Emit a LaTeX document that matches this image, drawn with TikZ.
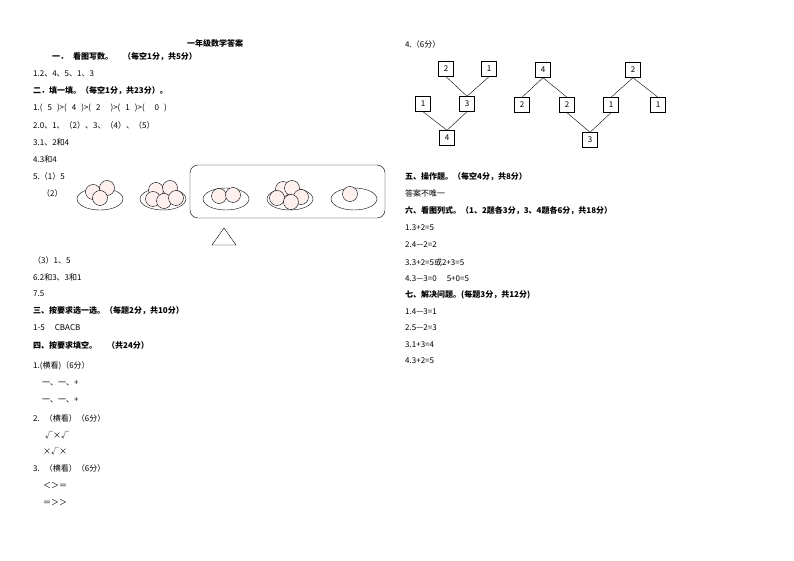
\documentclass[tikz,border=0pt]{standalone}
\usepackage{fontspec}
\setmainfont{Noto Sans CJK SC}
\tikzset{
  txt/.style={anchor=west,inner sep=0pt,font=\fontsize{8}{9}\selectfont},
  hd/.style={txt,font=\fontsize{8}{9}\selectfont\bfseries},
  numbox/.style={draw,minimum size=15pt,inner sep=0pt,font=\fontsize{8}{9}\selectfont},
  fruit/.style={draw,line width=0.4pt,fill=red!6},
  plate/.style={draw,line width=0.4pt,fill=white}
}
\newcommand{\gap}{\hspace{5pt}}
\begin{document}
\begin{tikzpicture}[x=1pt,y=-1pt]
	\useasboundingbox (0,0) rectangle (794,561);
	%left column
	\node[hd,anchor=center] (title) at (215,43) {一年级数学答案};
	\node[hd] (s1) at (52,57) {一．\gap 看图写数。\gap\gap（每空1分，共5分）};
	\node[txt] (l1) at (33,74) {1.2、4、5、1、3};
	\node[hd] (s2) at (33,91) {二．填一填。（每空1分，共23分）。};
	\node[txt] (l2) at (33,108) {1.(\gap 5\gap )>(\gap 4\gap )>(\gap 2\gap\gap )>(\gap 1\gap )>(\gap\gap 0\gap )};
	\node[txt] (l3) at (33,125) {2.0、1、（2）、3、（4）、（5）};
	\node[txt] (l4) at (33,142) {3.1、2和4};
	\node[txt] (l5) at (33,159) {4.3和4};
	\node[txt] (l6) at (33,176) {5.（1）5};
	\node[txt] (l7) at (42,193) {（2）};
	\node[txt] (l8) at (33,260) {（3）1、5};
	\node[txt] (l9) at (33,277) {6.2和3、3和1};
	\node[txt] (l10) at (33,294) {7.5};
	\node[hd] (s3) at (33,311) {三、按要求选一选。（每题2分，共10分）};
	\node[txt] (l11) at (33,328) {1-5\gap\gap CBACB};
	\node[hd] (s4) at (33,345) {四、按要求填空。\gap\gap（共24分）};
	\node[txt] (l12) at (33,366) {1.(横看)（6分）};
	\node[txt] (l13) at (42,383) {一、一、+};
	\node[txt] (l14) at (42,400) {一、一、+};
	\node[txt] (l15) at (33,418) {2.\gap（横看）（6分）};
	\node[txt] (l16) at (45,435) {√×√};
	\node[txt] (l17) at (43,451) {×√×};
	\node[txt] (l18) at (33,468) {3.\gap（横看）（6分）};
	\node[txt] (l19) at (43,485) {＜＞＝};
	\node[txt] (l20) at (43,502) {＝＞＞};

	%plates
	\foreach \px in {100,163,226,290,354}{
		\draw[plate] (\px,199) ellipse (23 and 11);
	}
	\foreach \fx/\fy in {93/192, 107/188, 100/198,
	                     156/190, 170/188, 153/199, 164/201, 176/198,
	                     219/196, 233/195,
	                     283/189, 277/198, 292/188, 301/197, 291/202,
	                     350/194}{
		\draw[fruit] (\fx,\fy) circle (7.5);
	}
	\draw[rounded corners=8pt] (190,165) rectangle (385,218);
	\draw (224,228) -- (236,245) -- (212,245) -- cycle;

	%right column
	\node[txt] (r0) at (405,44) {4.（6分）};
	\node[numbox] (a1) at (446,69) {2};
	\node[numbox] (a2) at (489,69) {1};
	\node[numbox] (a3) at (467,104) {3};
	\node[numbox] (a4) at (423,104) {1};
	\node[numbox] (a5) at (447,138) {4};
	\draw (a1.south) -- (a3.north) -- (a2.south);
	\draw (a4.south) -- (a5.north) -- (a3.south);
	\node[numbox] (b1) at (543,70) {4};
	\node[numbox] (b2) at (522,105) {2};
	\node[numbox] (b3) at (567,105) {2};
	\node[numbox] (b4) at (633,70) {2};
	\node[numbox] (b5) at (611,105) {1};
	\node[numbox] (b6) at (658,105) {1};
	\node[numbox] (b7) at (590,140) {3};
	\draw (b2.north) -- (b1.south) -- (b3.north);
	\draw (b5.north) -- (b4.south) -- (b6.north);
	\draw (b3.south) -- (b7.north) -- (b5.south);

	\node[hd] (s5) at (405,177) {五、操作题。（每空4分，共8分）};
	\node[txt] (r1) at (405,193) {答案不唯一};
	\node[hd] (s6) at (405,211) {六、看图列式。（1、2题各3分，3、4题各6分，共18分）};
	\node[txt] (r2) at (405,228) {1.3+2=5};
	\node[txt] (r3) at (405,245) {2.4—2=2};
	\node[txt] (r4) at (405,262) {3.3+2=5或2+3=5};
	\node[txt] (r5) at (405,279) {4.3—3=0\gap\gap 5+0=5};
	\node[hd] (s7) at (405,295) {七、解决问题。(每题3分，共12分)};
	\node[txt] (r6) at (405,312) {1.4—3=1};
	\node[txt] (r7) at (405,328) {2.5—2=3};
	\node[txt] (r8) at (405,345) {3.1+3=4};
	\node[txt] (r9) at (405,361) {4.3+2=5};
\end{tikzpicture}
\end{document}
